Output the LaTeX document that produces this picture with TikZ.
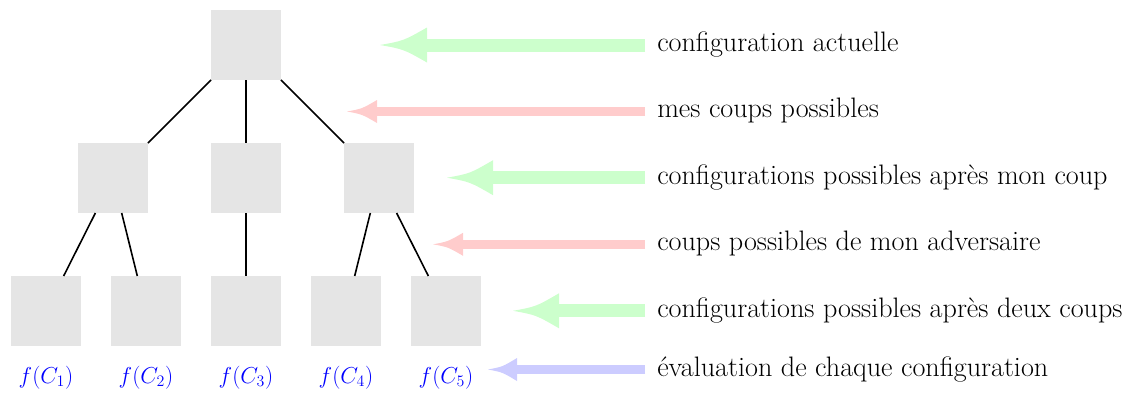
\documentclass[tikz,border=0pt]{standalone}
\begin{document}
\begin{tikzpicture}[x=0.75pt,y=-0.75pt,
  box/.style={fill=black!10, minimum size=52.5pt, inner sep=0pt, outer sep=0pt},
  edge/.style={line width=1.2pt},
  lbl/.style={anchor=base west, inner sep=0pt, font=\fontsize{21.1}{24}\selectfont},
  val/.style={anchor=base, inner sep=0pt, text=blue, font=\fontsize{17}{20}\selectfont},
  greenarr/.style={green!20},
  redarr/.style={red!20},
  bluearr/.style={blue!20}
]
\useasboundingbox (0,0) rectangle (1131,394);

% tree
\node[box] (r) at (246,45) {};
\node[box] (m1) at (113,178) {};
\node[box] (m2) at (246,178) {};
\node[box] (m3) at (379,178) {};
\node[box] (b1) at (46,311) {};
\node[box] (b2) at (146,311) {};
\node[box] (b3) at (246,311) {};
\node[box] (b4) at (346,311) {};
\node[box] (b5) at (446,311) {};
\draw[edge] (r) -- (m1);
\draw[edge] (r) -- (m2);
\draw[edge] (r) -- (m3);
\draw[edge] (m1) -- (b1);
\draw[edge] (m1) -- (b2);
\draw[edge] (m2) -- (b3);
\draw[edge] (m3) -- (b4);
\draw[edge] (m3) -- (b5);

\node[val] (f1) at (46,383) {$f(C_1)$};
\node[val] (f2) at (146,383) {$f(C_2)$};
\node[val] (f3) at (246,383) {$f(C_3)$};
\node[val] (f4) at (346,383) {$f(C_4)$};
\node[val] (f5) at (446,383) {$f(C_5)$};

% labels
\node[lbl] (l1) at (657,51.7) {configuration actuelle};
\node[lbl] (l2) at (657,117.5) {mes coups possibles};
\node[lbl] (l3) at (657,184.5) {configurations possibles après mon coup};
\node[lbl] (l4) at (657,250.5) {coups possibles de mon adversaire};
\node[lbl] (l5) at (657,317.5) {configurations possibles après deux coups};
\node[lbl] (l6) at (657,376) {évaluation de chaque configuration};

% arrow tips
\coordinate (t1) at (380,45);
\coordinate (t2) at (347,111.5);
\coordinate (t3) at (447,177.7);
\coordinate (t4) at (433,244.3);
\coordinate (t5) at (513,310.8);
\coordinate (t6) at (488,369.5);

% style / label / tip / shaft width px / head length px / head width px
\foreach \s/\l/\t/\w/\L/\W in {greenarr/l1/t1/13/47/35, redarr/l2/t2/9/30/23, greenarr/l3/t3/13/46/35, redarr/l4/t4/9/30/23, greenarr/l5/t5/13/46/35, bluearr/l6/t6/8.7/29/23}{
  \path (\t) ++(\L-1,0) coordinate (hb);
  \draw[\s, line width=\w*0.75pt] (\t -| \l.west) ++(-12,0) -- (hb);
  \begin{scope}[shift={(\t)}]
    \fill[\s] (0,0) .. controls (0.5*\L,-0.12*\W) .. (\L,-0.5*\W) -- (\L,0.5*\W) .. controls (0.5*\L,0.12*\W) .. (0,0) -- cycle;
  \end{scope}
}
\end{tikzpicture}
\end{document}
